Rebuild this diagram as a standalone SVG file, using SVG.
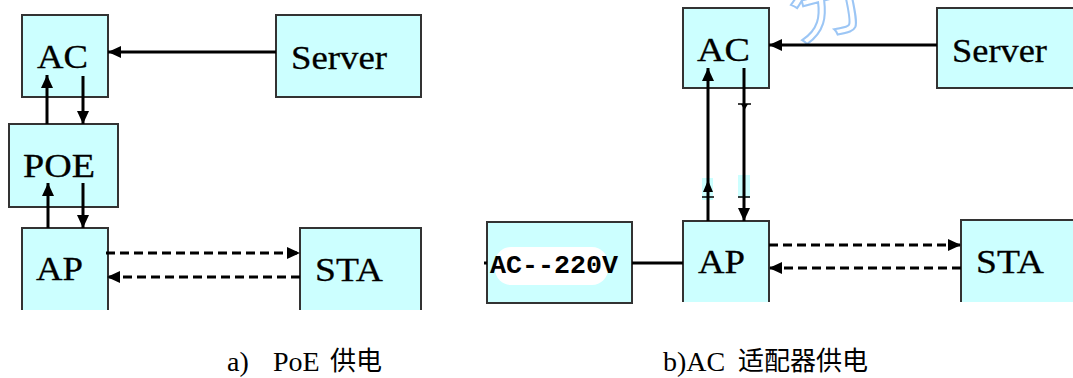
<svg xmlns="http://www.w3.org/2000/svg" width="1073" height="378" viewBox="0 0 1073 378">
<style>
.box{fill:#ccffff;stroke:#333;stroke-width:2}
.fillonly{fill:#ccffff;stroke:none}
.edge{fill:none;stroke:#333;stroke-width:2}
.lbl{font-family:"Liberation Serif","Times New Roman",serif;font-size:33px;fill:#000;stroke:#000;stroke-width:0.3}
.ln{stroke:#000;stroke-width:3;fill:none}
.dash{stroke:#000;stroke-width:3;fill:none;stroke-dasharray:9 5}
.cap{font-family:"Liberation Serif","Times New Roman",serif;font-size:28px;fill:#000}
.cjk{font-family:"Noto Sans CJK SC","Noto Sans CJK JP",sans-serif;font-size:26px;fill:#000}
.mono{font-family:"Liberation Mono","Courier New",monospace;font-size:26px;font-weight:bold;fill:#000}
</style>
<defs>
<marker id="ah" markerUnits="userSpaceOnUse" markerWidth="14" markerHeight="12" refX="13" refY="6" orient="auto">
<path d="M0,0 L13,6 L0,12 z" fill="#000"/>
</marker>
</defs>
<rect width="1073" height="378" fill="#fff"/>

<!-- watermark fragment -->
<text x="790" y="31" transform="rotate(-15 828 10)" style="font-family:'Noto Sans CJK SC',sans-serif;font-size:80px;fill:none;stroke:#9cc6f5;stroke-width:2">分</text>

<!-- panel a -->
<g id="a-ac"><rect class="box" x="22" y="15" width="86" height="82"/><text class="lbl" x="37" y="68" textLength="51" lengthAdjust="spacingAndGlyphs">AC</text></g>
<g id="a-server"><rect class="box" x="276" y="15" width="145" height="82"/><text class="lbl" x="291" y="69" textLength="96" lengthAdjust="spacingAndGlyphs">Server</text></g>
<g id="a-poe"><rect class="box" x="9" y="124" width="109" height="83"/><text class="lbl" x="23" y="177" textLength="72" lengthAdjust="spacingAndGlyphs">POE</text></g>
<g id="a-ap"><rect class="fillonly" x="22" y="228" width="86" height="82"/><path class="edge" d="M22,310 V228 H108 V310"/><text class="lbl" x="36" y="280" textLength="47" lengthAdjust="spacingAndGlyphs">AP</text></g>
<g id="a-sta"><rect class="fillonly" x="300" y="228" width="121" height="82"/><path class="edge" d="M300,310 V228 H421 V310"/><text class="lbl" x="315" y="281" textLength="68" lengthAdjust="spacingAndGlyphs">STA</text></g>

<!-- panel b -->
<g id="b-ac"><rect class="box" x="683" y="8" width="86" height="80"/><text class="lbl" x="697" y="61" textLength="53" lengthAdjust="spacingAndGlyphs">AC</text></g>
<g id="b-server"><rect class="fillonly" x="937" y="8" width="140" height="80"/><path class="edge" d="M1080,8 H937 V88 H1080"/><text class="lbl" x="952" y="62" textLength="95" lengthAdjust="spacingAndGlyphs">Server</text></g>
<g id="b-ap"><rect class="fillonly" x="683" y="221" width="86" height="81"/><path class="edge" d="M683,302 V221 H769 V302"/><text class="lbl" x="698" y="273" textLength="47" lengthAdjust="spacingAndGlyphs">AP</text></g>
<g id="b-sta"><rect class="fillonly" x="961" y="220" width="116" height="82"/><path class="edge" d="M961,302 V220 H1080"/><text class="lbl" x="976" y="273" textLength="68" lengthAdjust="spacingAndGlyphs">STA</text></g>
<g id="b-power"><rect class="box" x="487" y="222" width="145" height="81"/><rect x="495" y="247" width="113" height="38" rx="16" fill="#fff"/><text class="mono" x="490" y="273" textLength="128" lengthAdjust="spacingAndGlyphs">AC--220V</text></g>

<g id="connectors">
<line class="ln" x1="276" y1="52" x2="108" y2="52" marker-end="url(#ah)"/>
<line class="ln" x1="47" y1="124" x2="47" y2="75" marker-end="url(#ah)"/>
<line class="ln" x1="83" y1="76" x2="83" y2="124" marker-end="url(#ah)"/>
<line class="ln" x1="48" y1="228" x2="48" y2="183" marker-end="url(#ah)"/>
<line class="ln" x1="83" y1="183" x2="83" y2="228" marker-end="url(#ah)"/>
<line class="dash" x1="106" y1="253" x2="300" y2="253" marker-end="url(#ah)"/>
<line class="dash" x1="300" y1="277" x2="107" y2="277" marker-end="url(#ah)"/>

<line class="ln" x1="937" y1="45" x2="769" y2="45" marker-end="url(#ah)"/>
<rect x="702" y="178" width="11" height="22" fill="#ccffff"/>
<rect x="738" y="175" width="12" height="23" fill="#ccffff"/>
<line class="ln" x1="708" y1="221" x2="708" y2="68" marker-end="url(#ah)"/>
<line class="ln" x1="744" y1="68" x2="744" y2="221" marker-end="url(#ah)"/>
<path d="M708,180 L713,192 L703,192 z" fill="#000"/>
<path d="M702,197 H714 M738,197 H750 M738,104 H751" stroke="#000" stroke-width="1.5"/>
<path d="M741,104 L748,104 L744.5,110 z" fill="#000"/>
<line class="dash" x1="769" y1="245" x2="961" y2="245" marker-end="url(#ah)"/>
<line class="dash" x1="961" y1="268" x2="769" y2="268" marker-end="url(#ah)"/>
<line class="ln" x1="632" y1="263" x2="683" y2="263"/>
<line class="ln" x1="484" y1="263" x2="487" y2="263"/>
</g>

<g id="captions">
<text class="cap" x="227" y="371">a)</text>
<text class="cap" x="273" y="371">PoE</text>
<text class="cjk" x="330" y="370">供电</text>
<text class="cap" x="663" y="371">b)AC</text>
<text class="cjk" x="738" y="370">适配器供电</text>
</g>
</svg>
